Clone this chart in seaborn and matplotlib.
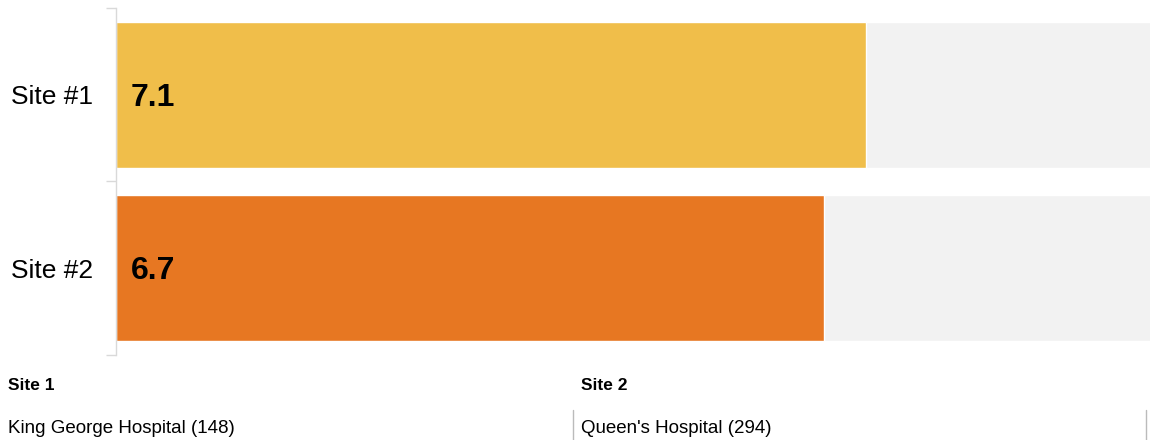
import matplotlib
matplotlib.use('Agg')
import matplotlib.pyplot as plt
import seaborn as sns
from matplotlib.lines import Line2D

sites = ['Site #1', 'Site #2']
scores = [7.1, 6.7]
scale_max = [10, 10]
bar_colors = ['#F0BE4A', '#E77722']

table_heads = ['Site 1', 'Site 2']
table_names = ['King George Hospital (148)', "Queen's Hospital (294)"]

sns.set_style('white')
plt.rcParams['font.family'] = ['Liberation Sans', 'DejaVu Sans']
plt.rcParams['text.color'] = 'black'
plt.rcParams['ytick.labelcolor'] = 'black'

fig = plt.figure(figsize=(11.5, 4.4), dpi=100)
ax = fig.add_axes([0.1013, 0.1932, 0.918, 0.7886])

# grey track behind each bar
sns.barplot(x=scale_max, y=sites, color='#F2F2F2', orient='h', width=0.84,
            saturation=1, ax=ax)
sns.barplot(x=scores, y=sites, hue=sites, palette=bar_colors, orient='h',
            width=0.84, saturation=1, legend=False, ax=ax)

for i, v in enumerate(scores):
    ax.annotate(f'{v}', xy=(0, i), xytext=(10, -2), textcoords='offset points',
                va='center', ha='left', fontsize=23, fontweight='bold', color='black')

ax.set_xlim(0, 10)
ax.set_ylim(1.5, -0.5)
ax.set_xlabel('')
ax.set_ylabel('')
ax.set_xticks([])
ax.set_yticks([0, 1])
ax.set_yticklabels(sites, fontsize=19, color='black')
ax.set_yticks([-0.5, 0.5, 1.5], minor=True)
ax.tick_params(axis='y', which='major', length=0, pad=17)
ax.tick_params(axis='y', which='minor', length=7, width=1, color='#D9D9D9', left=True)
for s in ['top', 'right', 'bottom']:
    ax.spines[s].set_visible(False)
ax.spines['left'].set_color('#D9D9D9')
ax.spines['left'].set_linewidth(1)

# small table under the chart
col_x = [8 / 1150, 581 / 1150]
for x, head, name in zip(col_x, table_heads, table_names):
    fig.text(x, 1 - 385 / 440, head, fontsize=12.5, fontweight='bold', va='center', ha='left', color='black')
    fig.text(x, 1 - 428 / 440, name, fontsize=13.5, va='center', ha='left', color='black')

for lx in [573 / 1150, 1146 / 1150]:
    fig.add_artist(Line2D([lx, lx], [0, 1 - 410 / 440], color='#BBBBBB', lw=1,
                          transform=fig.transFigure))

fig.savefig('out.png', dpi=100)
